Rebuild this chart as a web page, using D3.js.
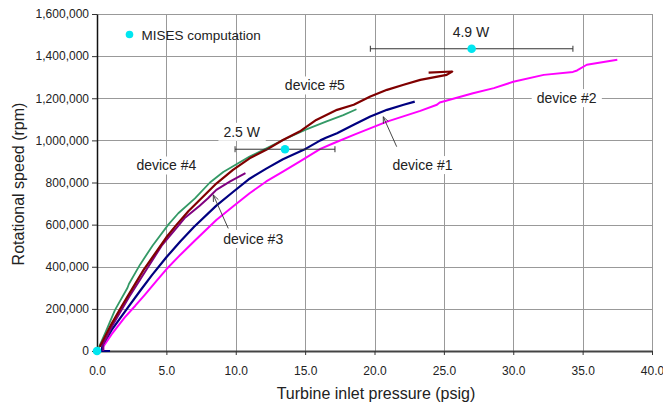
<!DOCTYPE html>
<html>
<head>
<meta charset="utf-8">
<script src="https://cdn.jsdelivr.net/npm/d3@7"></script>
<style>
  body { margin: 0; background: #fff; }
  svg { display: block; font-family: "Liberation Sans", Arial, sans-serif; }
</style>
</head>
<body>
<svg id="chart"></svg>
<script>
"use strict";

// axis ticks
const xTicks = [0, 5, 10, 15, 20, 25, 30, 35, 40];
const yTicks = [0, 200000, 400000, 600000, 800000, 1000000, 1200000, 1400000, 1600000];

// measured curves: [inlet pressure (psig), rotational speed (rpm)]
const device1 = [[0.94,0],[0.34,0],[0.4,30000],[1.06,100000],[2.26,210000],[3.1,285000],[3.96,360000],[5.0,445000],
  [6.0,520000],[7.0,590000],[8.6,690000],[9.8,755000],[11.0,818000],[12.2,866000],[13.4,910000],[14.9,955000],
  [16.1,1000000],[16.5,1012000],[17.3,1034000],[18.5,1074000],[19.7,1113000],[20.9,1145000],[22.1,1169000],[22.9,1184000]];
const device2 = [[0.45,0],[0.45,20000],[1.06,80000],[2.0,160000],[2.76,215000],[3.46,268000],[4.32,335000],[5.0,388000],
  [5.86,447000],[7.06,525000],[8.6,622000],[9.8,686000],[11.0,749000],[12.2,805000],[13.4,852000],
  [14.6,899000],[16.1,960000],[17.0,985000],[18.5,1026000],[20.9,1089000],[23.3,1140000],[24.5,1169000],[24.7,1180000],
  [27.1,1224000],[28.6,1248000],[30.0,1278000],[32.2,1311000],[34.3,1325000],[34.6,1332000],[35.3,1359000],[37.5,1383000]];
const device3 = [[0.45,0],[0.45,32000],[1.1,120000],[2.3,255000],[3.5,380000],[4.66,500000],[5.93,600000],[6.3,630000],
  [7.4,690000],[8.0,725000],[8.6,765000],[9.6,805000],[10.7,844000]];
const device4 = [[0.1,13000],[0.58,84000],[1.3,195000],[2.2,300000],[2.3,318000],[3.1,410000],[4.0,500000],[5.14,600000],
  [5.86,654000],[7.06,725000],[8.14,800000],[9.1,850000],[11.0,923000],[13.4,1002000],[15.0,1050000],[16.5,1089000],
  [17.75,1120000],[18.7,1148000]];
const device5 = [[0.2,20000],[1.06,130000],[1.8,215000],[2.26,265000],[3.36,385000],[5.0,540000],[5.74,600000],[6.6,665000],
  [7.4,717000],[8.6,795000],[9.8,860000],[11.0,915000],[12.2,955000],[13.4,1002000],[14.6,1042000],[15.8,1097000],
  [17.3,1145000],[18.5,1169000],[19.7,1208000],[20.9,1240000],[22.1,1264000],[23.3,1287000],[25.2,1311000],
  [25.6,1327000],[23.9,1322000]];

// MISES computation points and their power ranges
const misesPoints = [[0, 0], [13.55, 958000], [27.0, 1435000]];
const misesRanges = [[9.95, 17.15, 958000], [19.7, 34.3, 1435000]];
const powerLabels = ["2.5 W", "4.9 W"];
const deviceNames = ["device #1", "device #2", "device #3", "device #4", "device #5"];

const width = 663, height = 410;
const FONT_TICK = 12, FONT_LABEL = 14, FONT_TITLE = 16;
const CYAN = "#00e6f0";

const svg = d3.select("#chart").attr("width", width).attr("height", height);

const x = d3.scaleLinear().domain([0, 40]).range([97, 652]);
const y = d3.scaleLinear().domain([0, 1600000]).range([351, 14]);

// gridlines
svg.append("g")
  .selectAll("line")
  .data(yTicks.slice(1))
  .join("line")
  .attr("x1", x(0)).attr("x2", x(40))
  .attr("y1", d => Math.round(y(d)) + 0.5).attr("y2", d => Math.round(y(d)) + 0.5)
  .attr("stroke", "#999");
svg.append("g")
  .selectAll("line")
  .data(xTicks.slice(1))
  .join("line")
  .attr("x1", d => Math.round(x(d)) + 0.5).attr("x2", d => Math.round(x(d)) + 0.5)
  .attr("y1", y(0)).attr("y2", y(1600000))
  .attr("stroke", "#999");

// axes
const xAxis = svg.append("g")
  .attr("transform", `translate(0,${y(0)})`)
  .call(d3.axisBottom(x).tickValues(xTicks).tickFormat(d3.format(".1f")).tickSize(4).tickSizeOuter(0));
const yAxis = svg.append("g")
  .attr("transform", `translate(${x(0)},0)`)
  .call(d3.axisLeft(y).tickValues(yTicks).tickFormat(d3.format(",")).tickSize(5).tickSizeOuter(0));

xAxis.select(".domain").attr("stroke", "#444").attr("stroke-width", 2);
yAxis.select(".domain").attr("stroke", "#111").attr("stroke-width", 1.5);
[xAxis, yAxis].forEach(a => {
  a.selectAll(".tick line").attr("stroke", "#333");
  a.selectAll(".tick text")
    .attr("font-family", "Liberation Sans, Arial, sans-serif")
    .attr("font-size", FONT_TICK)
    .attr("fill", "#222");
});
xAxis.selectAll(".tick text").attr("dy", "0.71em").attr("y", 15);
yAxis.selectAll(".tick text").attr("x", -8);

// axis titles
svg.append("text")
  .attr("x", 376).attr("y", 399)
  .attr("text-anchor", "middle")
  .attr("font-size", FONT_TITLE).attr("fill", "#222")
  .text("Turbine inlet pressure (psig)");
svg.append("text")
  .attr("transform", "translate(24,184) rotate(-90)")
  .attr("text-anchor", "middle")
  .attr("font-size", FONT_TITLE).attr("fill", "#222")
  .text("Rotational speed (rpm)");

// device curves
const line = d3.line().x(d => x(d[0])).y(d => y(d[1]));
const series = [
  { data: device2, color: "#ff00ff", w: 2 },
  { data: device1, color: "#000080", w: 2.2 },
  { data: device4, color: "#339966", w: 1.8 },
  { data: device3, color: "#800080", w: 2 },
  { data: device5, color: "#800000", w: 2.2 },
];
svg.append("g")
  .selectAll("path")
  .data(series)
  .join("path")
  .attr("d", d => line(d.data))
  .attr("fill", "none")
  .attr("stroke", d => d.color)
  .attr("stroke-width", d => d.w)
  .attr("stroke-linejoin", "round");

// error bars for the MISES points
const bars = svg.append("g").attr("stroke", "#333").attr("stroke-width", 1);
misesRanges.forEach(r => {
  bars.append("line").attr("x1", x(r[0])).attr("x2", x(r[1])).attr("y1", y(r[2])).attr("y2", y(r[2]));
  bars.append("line").attr("x1", x(r[0])).attr("x2", x(r[0])).attr("y1", y(r[2]) - 3).attr("y2", y(r[2]) + 3);
  bars.append("line").attr("x1", x(r[1])).attr("x2", x(r[1])).attr("y1", y(r[2]) - 3).attr("y2", y(r[2]) + 3);
});

svg.append("g")
  .selectAll("circle")
  .data(misesPoints)
  .join("circle")
  .attr("cx", d => x(d[0])).attr("cy", d => y(d[1]))
  .attr("r", 4.3)
  .attr("fill", CYAN);

// text annotations with a white box behind
function boxedLabel(text, px, rpm) {
  const g = svg.append("g");
  const t = g.append("text")
    .attr("x", x(px)).attr("y", y(rpm))
    .attr("text-anchor", "middle")
    .attr("font-size", FONT_LABEL).attr("fill", "#222")
    .text(text);
  const bb = t.node().getBBox();
  g.insert("rect", "text")
    .attr("x", bb.x - 5).attr("y", bb.y - 1)
    .attr("width", bb.width + 10).attr("height", bb.height + 2)
    .attr("fill", "#fff");
}
boxedLabel(deviceNames[4], 15.7, 1237000);
boxedLabel(deviceNames[3], 5.0, 857000);
boxedLabel(deviceNames[2], 11.26, 508000);
boxedLabel(deviceNames[0], 23.46, 859000);
boxedLabel(deviceNames[1], 33.85, 1177000);
boxedLabel(powerLabels[0], 10.43, 1017000);
boxedLabel(powerLabels[1], 26.95, 1493000);

// arrows pointing at device #1 and device #3
function arrow(p0, p1) {
  const x0 = x(p0[0]), y0 = y(p0[1]), x1 = x(p1[0]), y1 = y(p1[1]);
  const a = Math.atan2(y1 - y0, x1 - x0), len = 7, spread = 0.4;
  const g = svg.append("g").attr("stroke", "#333").attr("stroke-width", 0.9).attr("fill", "none");
  g.append("line").attr("x1", x0).attr("y1", y0).attr("x2", x1).attr("y2", y1);
  g.append("path").attr("d",
    `M${x1 - len * Math.cos(a - spread)},${y1 - len * Math.sin(a - spread)}L${x1},${y1}` +
    `L${x1 - len * Math.cos(a + spread)},${y1 - len * Math.sin(a + spread)}`);
}
arrow([21.6, 970000], [20.63, 1112000]);
arrow([9.46, 582000], [8.38, 741000]);

// legend
const legend = svg.append("g").attr("transform", "translate(129.5,34.5)");
legend.append("circle").attr("r", 3.8).attr("fill", CYAN);
legend.append("text")
  .attr("x", 12).attr("y", 5)
  .attr("font-size", 13.5).attr("fill", "#222")
  .text("MISES computation");
</script>
</body>
</html>
